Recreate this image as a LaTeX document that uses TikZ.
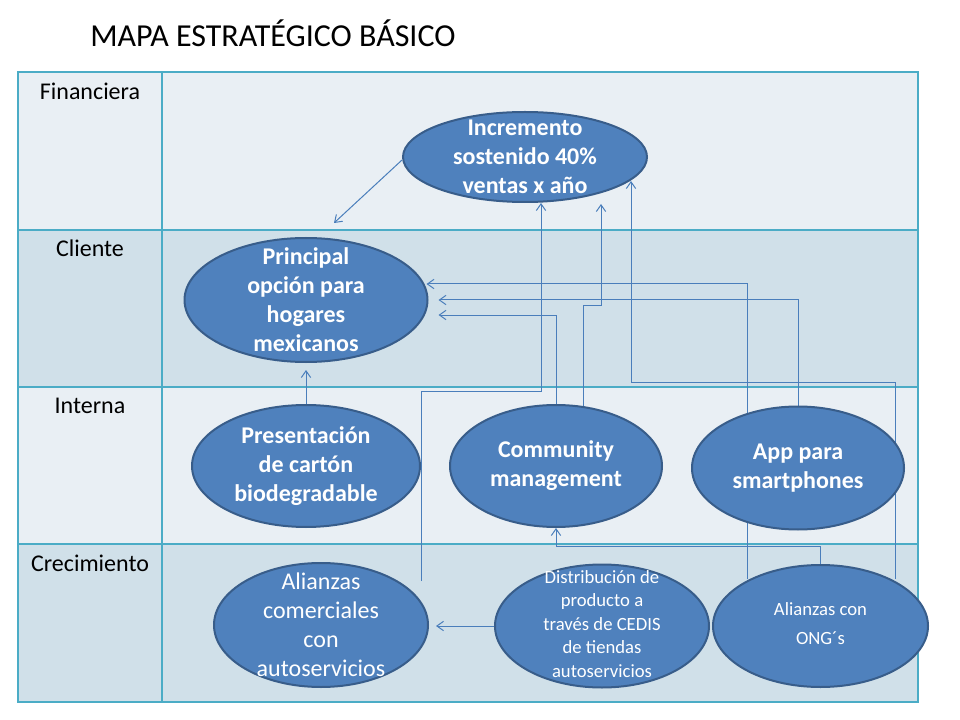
\documentclass[tikz,border=0pt]{standalone}
\usepackage{fontspec}
\setmainfont{Carlito}
\usetikzlibrary{shapes.geometric,arrows.meta,calc}
\pgfdeclarelayer{tablebg}
\pgfdeclarelayer{lines}
\pgfsetlayers{tablebg,lines,main}
\definecolor{rowlight}{RGB}{233,239,244}
\definecolor{rowdark}{RGB}{208,224,233}
\definecolor{gridteal}{RGB}{75,172,198}
\definecolor{connblue}{RGB}{74,126,187}
\definecolor{ovalfill}{RGB}{79,129,189}
\definecolor{ovalborder}{RGB}{56,93,138}
\begin{document}
\begin{tikzpicture}[x=0.75pt,y=-0.75pt,
  oval/.style={ellipse,draw=ovalborder,fill=ovalfill,line width=1.5pt,inner sep=0pt},
  ovaltext/.style={text=white,align=center,font=\fontsize{18}{21.75}\selectfont\bfseries,inner sep=0pt},
  ovaltextreg/.style={text=white,align=center,font=\fontsize{18}{21.75}\selectfont,inner sep=0pt},
  conn/.style={draw=connblue,line width=0.75pt,-{Straight Barb[length=5pt,width=7pt]}},
  rowlabel/.style={anchor=base,font=\fontsize{18}{21.75}\selectfont,inner sep=0pt},
  gridline/.style={draw=gridteal,line width=0.9pt}
]
\useasboundingbox (0,0) rectangle (960,720);

% table
\begin{pgfonlayer}{tablebg}
\fill[rowlight] (18,72) rectangle (918,230);
\fill[rowdark] (18,230) rectangle (918,387);
\fill[rowlight] (18,387) rectangle (918,544);
\fill[rowdark] (18,544) rectangle (918,702);
\draw[gridline] (18,72) rectangle (918,702);
\draw[gridline] (18,230) -- (918,230);
\draw[gridline] (18,387) -- (918,387);
\draw[gridline] (18,544) -- (918,544);
\draw[gridline] (162,72) -- (162,702);
\end{pgfonlayer}

% title and row labels
\node[anchor=base west,inner sep=0pt,font=\fontsize{24}{29}\selectfont] (title) at (90,47) {MAPA ESTRATÉGICO BÁSICO};
\node[rowlabel] (lfin) at (90,100) {Financiera};
\node[rowlabel] (lcli) at (90,257) {Cliente};
\node[rowlabel] (lint) at (90,413) {Interna};
\node[rowlabel] (lcre) at (90,571) {Crecimiento};

% objectives
\node[oval,minimum width=183pt,minimum height=67.5pt] (inc) at (525,157) {};
\node[ovaltext] (inct) at (inc) {Incremento\\sostenido 40\%\\ventas x año};

\node[oval,minimum width=182.25pt,minimum height=93pt] (pri) at (306,300) {};
\node[ovaltext] (prit) at (pri) {Principal\\opción para\\hogares\\mexicanos};

\node[oval,minimum width=171pt,minimum height=91.5pt] (pre) at (306,466) {};
\node[ovaltext] (pret) at (pre) {Presentación\\de cartón\\biodegradable};

\node[oval,minimum width=159pt,minimum height=91.5pt] (com) at (556,466) {};
\node[ovaltext] (comt) at (com) {Community\\management};

\node[oval,minimum width=159pt,minimum height=92.25pt] (app) at (798,468) {};
\node[ovaltext] (appt) at (app) {App para\\smartphones};

\node[oval,minimum width=160.5pt,minimum height=93pt] (ali) at (321,625) {};
\node[ovaltextreg] (alit) at (ali) {Alianzas\\comerciales\\con\\autoservicios};

\node[oval,minimum width=160.5pt,minimum height=92.25pt] (dis) at (602,626) {};
\node[text=white,align=center,font=\fontsize{14}{17.6}\selectfont,inner sep=0pt] (dist) at (602,624) {Distribución de\\producto a\\través de CEDIS\\de tiendas\\autoservicios};

\node[oval,minimum width=161.25pt,minimum height=91.5pt] (ong) at (820.5,626) {};
\node[text=white,align=center,font=\fontsize{14}{21.75}\selectfont,inner sep=0pt] (ongt) at (820.5,624) {Alianzas con\\ONG´s};

% connectors
\begin{pgfonlayer}{lines}
\draw[conn] ($(inc.west)+(0,3)$) -- ($(pri.north)+(28,-14)$);
\draw[conn] (pre.north) -- ($(pri.south)+(0,7)$);
\draw[conn] ($(ali.north)+(100,19)$) |- ($(inc.south)+(16,188)$) -- ($(inc.south)+(16,0)$);
\draw[conn] (com.north) |- ($(pri.east)+(10,15)$);
\draw[conn] ($(com.north)+(27,2)$) |- ($(inc.south)+(76,103)$) -- ($(inc.south)+(76,1)$);
\draw[conn] (app.north) |- ($(pri.east)+(10,0)$);
\draw[conn] ($(ong.north)+(-73.5,15)$) |- ($(pri.east)+(-2,-16)$);
\draw[conn] ($(ong.north)+(74.5,15)$) |- ($(inc.south)+(106,179)$) -- ($(inc.south)+(106,-22)$);
\draw[conn] (ong.north) |- ($(com.south)+(0,18)$) -- (com.south);
\draw[conn] (dis.west) -- ($(ali.east)+(7,1)$);
\end{pgfonlayer}
\end{tikzpicture}
\end{document}
